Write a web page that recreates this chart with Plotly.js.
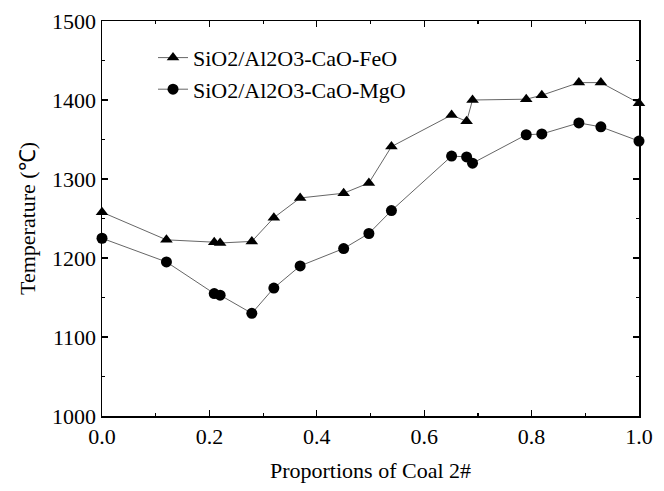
<!DOCTYPE html>
<html>
<head>
<meta charset="utf-8">
<script src="https://cdn.plot.ly/plotly-3.0.1.min.js"></script>
<style>html,body{margin:0;padding:0;background:#fff;}#chart{width:664px;height:491px;}</style>
</head>
<body>
<div id="chart"></div>
<script>
const feoX = [0.0, 0.12, 0.209, 0.22, 0.279, 0.32, 0.369, 0.45, 0.497, 0.539, 0.651, 0.679, 0.69, 0.79, 0.819, 0.888, 0.929, 1.0];
const feoY = [1258, 1223, 1220, 1219, 1221, 1251, 1276, 1282, 1295, 1341, 1381, 1373, 1400, 1401, 1406, 1422, 1422, 1396];
const mgoX = [0.0, 0.12, 0.209, 0.22, 0.279, 0.32, 0.369, 0.45, 0.497, 0.539, 0.651, 0.679, 0.69, 0.79, 0.819, 0.888, 0.929, 1.0];
const mgoY = [1225, 1195, 1155, 1153, 1130, 1162, 1190, 1212, 1231, 1260, 1329, 1328, 1320, 1356, 1357, 1371, 1366, 1348];
const seriesNames = ['SiO2/Al2O3-CaO-FeO', 'SiO2/Al2O3-CaO-MgO'];
const xTitle = 'Proportions of Coal 2#';
const yTitle = 'Temperature (℃)';

const font = 'Liberation Serif, Times New Roman, serif';
const traces = [
  {x: feoX, y: feoY, name: seriesNames[0], mode: 'lines+markers', type: 'scatter',
   line: {color: '#666', width: 1}, marker: {symbol: 'triangle-up', size: 11, color: '#000'}, cliponaxis: false},
  {x: mgoX, y: mgoY, name: seriesNames[1], mode: 'lines+markers', type: 'scatter',
   line: {color: '#666', width: 1}, marker: {symbol: 'circle', size: 11, color: '#000'}, cliponaxis: false}
];
const axisCommon = {
  showgrid: false, zeroline: false, showline: true, linecolor: '#000', linewidth: 1.5, mirror: 'ticks',
  ticks: 'inside', ticklen: 6, tickwidth: 1.2, tickcolor: '#000',
  tickfont: {family: font, size: 22, color: '#000'}
};
const layout = {
  width: 664, height: 491,
  margin: {l: 102, r: 25, t: 21, b: 75},
  paper_bgcolor: '#fff', plot_bgcolor: '#fff',
  font: {family: font, color: '#000'},
  showlegend: true,
  legend: {x: 0.095, y: 0.96, xanchor: 'left', yanchor: 'top', bgcolor: 'rgba(0,0,0,0)',
    font: {family: font, size: 22, color: '#000'}, tracegroupgap: 0},
  xaxis: Object.assign({}, axisCommon, {
    range: [0, 1], tickvals: [0, 0.2, 0.4, 0.6, 0.8, 1.0], ticktext: ['0.0','0.2','0.4','0.6','0.8','1.0'],
    minor: {dtick: 0.1, ticks: 'inside', ticklen: 3, tickcolor: '#000', tickwidth: 1.2},
    title: {text: xTitle, font: {family: font, size: 22, color: '#000'}, standoff: 14}
  }),
  yaxis: Object.assign({}, axisCommon, {
    range: [1000, 1500], dtick: 100,
    minor: {dtick: 50, ticks: 'inside', ticklen: 3, tickcolor: '#000', tickwidth: 1.2},
    title: {text: yTitle, font: {family: font, size: 22, color: '#000'}, standoff: 10}
  })
};
Plotly.newPlot('chart', traces, layout, {displayModeBar: false, staticPlot: true});
</script>
</body>
</html>
